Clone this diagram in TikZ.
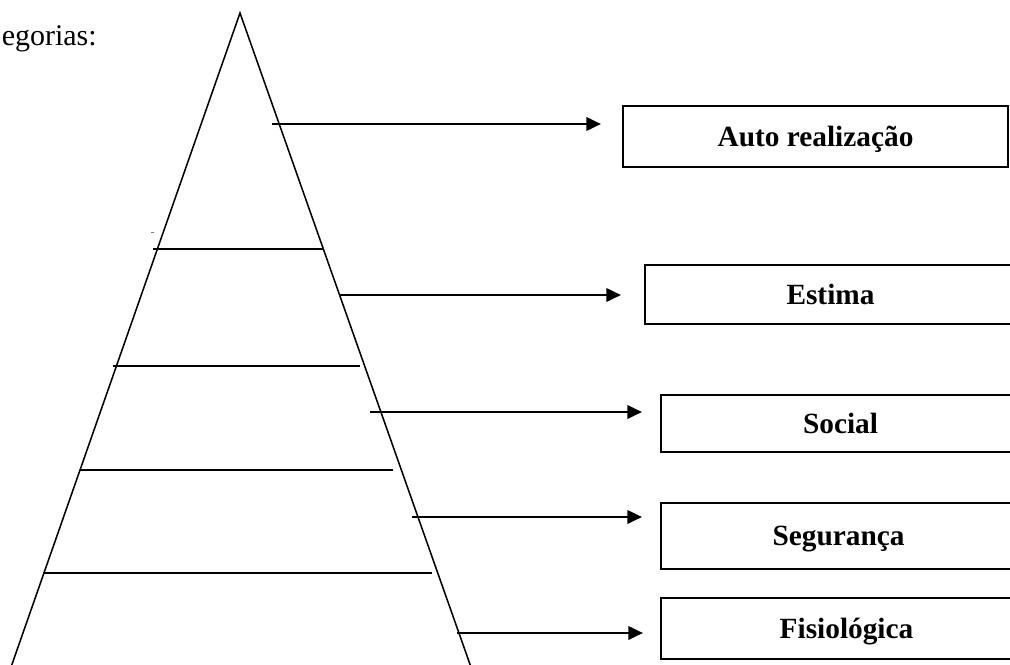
\documentclass[tikz,border=0pt]{standalone}
\usepackage{fontspec}
\setmainfont{Liberation Serif}
\usetikzlibrary{arrows.meta}
\begin{document}
\begin{tikzpicture}[x=0.75pt,y=-0.75pt,
  pyr/.style={line width=1.15pt,line cap=round},
  lvl/.style={line width=1.15pt},
  arr/.style={line width=2pt,-{Triangle[length=11pt,width=10pt]}},
  box/.style={draw,line width=1.5pt,inner sep=0pt,font=\fontsize{22}{26}\selectfont\bfseries,text height=14.8pt,text depth=0pt}]
\useasboundingbox (0,0) rectangle (1010,664);
\clip (0,0) rectangle (1010,664);
% caption fragment
\node[anchor=base east,inner sep=0pt,font=\fontsize{22.5}{26}\selectfont] (cap) at (97,45) {egorias:};
% pyramid
\coordinate (apex) at (240,13);
\coordinate (bl) at (10,670);
\coordinate (br) at (472,670);
\draw[pyr] (bl) -- (apex) -- (br);
\draw[lvl] (153,249) -- (324,249);
\draw[lvl] (113,366) -- (360,366);
\draw[lvl] (80,470) -- (393,470);
\draw[lvl] (43,573) -- (432,573);
\draw[line width=0.4pt,gray] (151,232) -- (153.5,232);
% boxes
\node[box,minimum width=385*0.75pt,minimum height=61*0.75pt] (b1) at (815.5,136.5) {Auto realização};
\node[box,minimum width=371*0.75pt,minimum height=59*0.75pt] (b2) at (830.5,294.5) {Estima};
\node[box,minimum width=359*0.75pt,minimum height=57*0.75pt] (b3) at (840.5,423.5) {Social};
\node[box,minimum width=355*0.75pt,minimum height=66*0.75pt] (b4) at (838.5,536) {Segurança};
\node[box,minimum width=371*0.75pt,minimum height=61*0.75pt] (b5) at (846.5,628.5) {Fisiológica};
% arrows
\coordinate (a1) at (272,124);
\coordinate (a2) at (340,295);
\coordinate (a3) at (370,412);
\coordinate (a4) at (412,517);
\coordinate (a5) at (457,633);
\draw[arr,shorten >=21*0.75pt] (a1) -- (b1.west |- a1);
\draw[arr,shorten >=23*0.75pt] (a2) -- (b2.west |- a2);
\draw[arr,shorten >=18*0.75pt] (a3) -- (b3.west |- a3);
\draw[arr,shorten >=18*0.75pt] (a4) -- (b4.west |- a4);
\draw[arr,shorten >=17*0.75pt] (a5) -- (b5.west |- a5);
\end{tikzpicture}
\end{document}
